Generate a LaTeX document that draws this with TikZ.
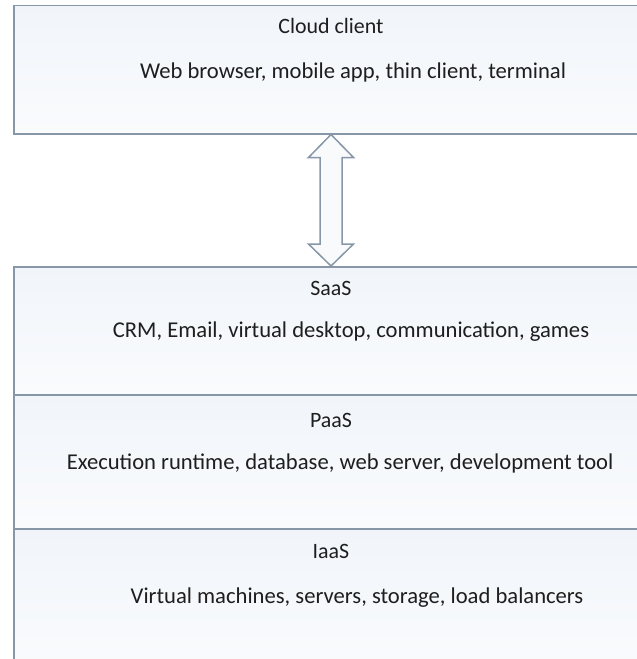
\documentclass[tikz,border=0pt]{standalone}
\usepackage{fontspec}
\setmainfont{Carlito}
\usetikzlibrary{calc}
\definecolor{boxline}{HTML}{8797A8}
\definecolor{boxfill}{HTML}{F1F5FA}
\definecolor{txt}{HTML}{1E1E1E}
\tikzset{
  layer/.style={draw=boxline, line width=1.5bp, top color=boxfill, bottom color=white!60!boxfill,
    rectangle, inner sep=0pt, anchor=north west},
  title/.style={text=txt, font=\fontsize{22}{26}\selectfont, inner sep=0pt},
  detail/.style={text=txt, font=\fontsize{22.7}{27}\selectfont, inner sep=0pt},
  link/.style={draw=boxline, line width=1.5bp, fill=white!50!boxfill, line join=miter}
}
\begin{document}
\begin{tikzpicture}[x=1bp,y=-1bp]
\useasboundingbox (0,0) rectangle (637,659);
\clip (0,0) rectangle (637,659);
% stacked service layers
\node[layer, minimum width=630bp, minimum height=128bp] (client) at (13,5) {};
\node[layer, minimum width=630bp, minimum height=128bp] (saas) at (13,266) {};
\node[layer, minimum width=630bp, minimum height=134bp] (paas) at (13,394) {};
\node[layer, minimum width=630bp, minimum height=140bp] (iaas) at (13,528) {};
% labels
\node[title] (t1) at (331,26) {Cloud client};
\node[detail] (d1) at (353,72) {Web browser, mobile app, thin client, terminal};
\node[title] (t2) at (331,288) {SaaS};
\node[detail] (d2) at (351,332) {CRM, Email, virtual desktop, communication, games};
\node[title] (t3) at (331,420) {PaaS};
\node[detail] (d3) at (340,463) {Execution runtime, database, web server, development tool};
\node[title] (t4) at (331,551) {IaaS};
\node[detail] (d4) at (357,598) {Virtual machines, servers, storage, load balancers};
% two-way link between the client and the service stack
\coordinate (top) at (client.south -| 331,0);
\coordinate (bot) at (saas.north -| 331,0);
\path[link] (top) -- ($(top)+(22.5,23)$) -- ($(top)+(11,23)$) -- ($(bot)+(11,-22)$)
  -- ($(bot)+(22.5,-22)$) -- (bot) -- ($(bot)+(-22.5,-22)$) -- ($(bot)+(-11,-22)$)
  -- ($(top)+(-11,23)$) -- ($(top)+(-22.5,23)$) -- cycle;
\end{tikzpicture}
\end{document}
